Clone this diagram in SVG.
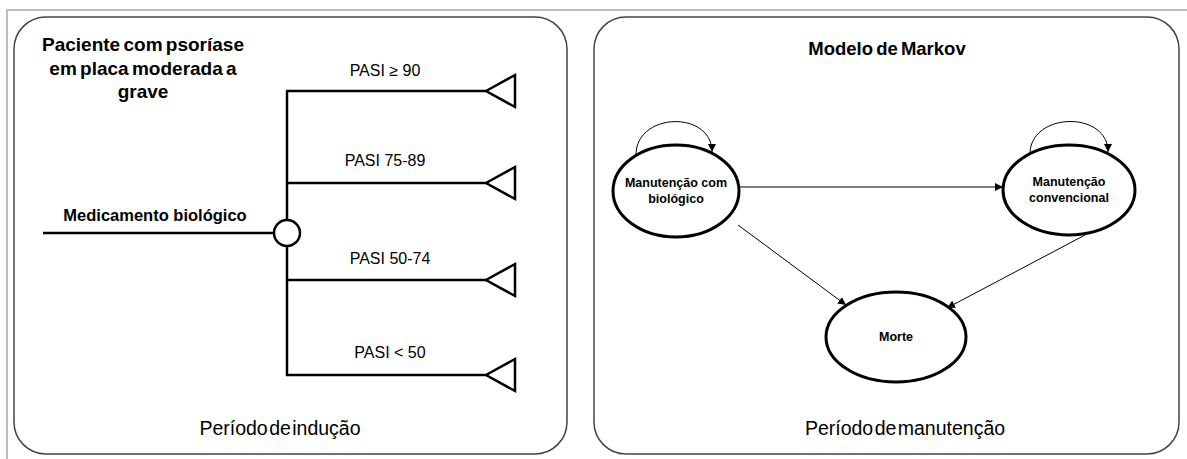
<svg xmlns="http://www.w3.org/2000/svg" width="1187" height="459" viewBox="0 0 1187 459">
<style>
.frame{fill:none;stroke:#bdbdbd;stroke-width:2}
.panel{fill:#fff;stroke:#444;stroke-width:1.5}
.tree{fill:none;stroke:#000;stroke-width:2.5}
.term{fill:#fff;stroke:#000;stroke-width:2.5;stroke-linejoin:miter}
.state{fill:#fff;stroke:#000;stroke-width:3}
.arr{fill:none;stroke:#000;stroke-width:1}
.t{font-family:"Liberation Sans",Arial,sans-serif;fill:#000;text-anchor:middle}
.title{font-size:19px;font-weight:bold;word-spacing:-2px}
.mtitle{font-size:18.5px;font-weight:bold;word-spacing:-2px}
.lab{font-size:16px}
.blab{font-size:16.5px;font-weight:bold}
.slab{font-size:12.5px;font-weight:bold}
.per{font-size:19.5px;word-spacing:-4px}
</style>
<defs>
<marker id="ah" viewBox="0 0 10 10" refX="10" refY="5" markerWidth="8" markerHeight="8" markerUnits="userSpaceOnUse" orient="auto">
<path d="M0,0 L10,5 L0,10 z" fill="#000"/>
</marker>
</defs>
<rect width="1187" height="459" fill="#fff"/>
<path class="frame" d="M7,459 V10 H1187"/>
<g id="panel-inducao">
<rect class="panel" x="14" y="17" width="553" height="437" rx="32" ry="32"/>
<text class="t title" x="143" y="51">Paciente com psoríase</text>
<text class="t title" x="143" y="75">em placa moderada a</text>
<text class="t title" x="143" y="98">grave</text>
<text class="t per" x="280" y="435">Período de indução</text>
</g>
<g id="panel-manutencao">
<rect class="panel" x="594" y="17" width="585" height="437" rx="32" ry="32"/>
<text class="t mtitle" x="887" y="55">Modelo de Markov</text>
<text class="t per" x="905" y="435">Período de manutenção</text>
</g>
<g id="connectors">
<line class="tree" x1="43" y1="233" x2="274" y2="233"/>
<line class="tree" x1="287" y1="91" x2="287" y2="220"/>
<line class="tree" x1="287" y1="246" x2="287" y2="376"/>
<line class="tree" x1="286" y1="91" x2="486" y2="91"/>
<line class="tree" x1="286" y1="183" x2="486" y2="183"/>
<line class="tree" x1="286" y1="280" x2="486" y2="280"/>
<line class="tree" x1="286" y1="375" x2="486" y2="375"/>
<line class="arr" x1="740" y1="187" x2="1003" y2="187" marker-end="url(#ah)"/>
<line class="arr" x1="738" y1="225" x2="846" y2="305" marker-end="url(#ah)"/>
<line class="arr" x1="1085" y1="235" x2="947" y2="308" marker-end="url(#ah)"/>
<path class="arr" d="M636,155 C636,112 712,110 712,152" marker-end="url(#ah)"/>
<path class="arr" d="M1030,154 C1030,112 1108,110 1108,152" marker-end="url(#ah)"/>
</g>
<g id="label-medicamento"><text class="t blab" x="155" y="221">Medicamento biológico</text></g>
<g id="chance-node"><circle class="term" cx="287" cy="233" r="13"/></g>
<g id="term-90"><polygon class="term" points="486,91 515,75 515,107"/><text class="t lab" x="385" y="76">PASI ≥ 90</text></g>
<g id="term-75"><polygon class="term" points="486,183 515,167 515,199"/><text class="t lab" x="385" y="166">PASI 75-89</text></g>
<g id="term-50"><polygon class="term" points="486,280 515,264 515,296"/><text class="t lab" x="390" y="264">PASI 50-74</text></g>
<g id="term-lt50"><polygon class="term" points="486,375 515,359 515,391"/><text class="t lab" x="390" y="358">PASI &lt; 50</text></g>
<g id="state-biologico">
<ellipse class="state" cx="676" cy="191" rx="63" ry="46"/>
<text class="t slab" x="676" y="187">Manutenção com</text>
<text class="t slab" x="676" y="203">biológico</text>
</g>
<g id="state-convencional">
<ellipse class="state" cx="1069" cy="190" rx="66" ry="45"/>
<text class="t slab" x="1069" y="186">Manutenção</text>
<text class="t slab" x="1069" y="202">convencional</text>
</g>
<g id="state-morte">
<ellipse class="state" cx="896" cy="337" rx="70" ry="45"/>
<text class="t slab" x="896" y="341">Morte</text>
</g>
</svg>
